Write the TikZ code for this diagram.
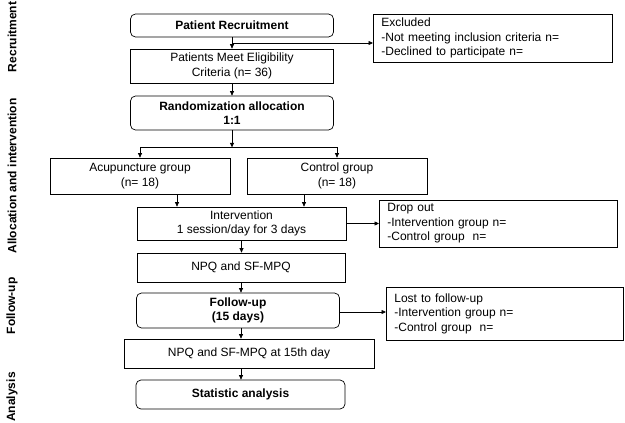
\documentclass[tikz,border=0pt]{standalone}
\usepackage{fontspec}
\setmainfont{Liberation Sans}
\usetikzlibrary{arrows.meta,calc}

\begin{document}
\begin{tikzpicture}[x=1pt, y=-1pt,
    every node/.style={font=\fontsize{12}{14.5}\selectfont},
    box/.style={draw, line width=0.7pt, align=center, inner sep=0pt},
    rbox/.style={box, rounded corners=5pt, font=\fontsize{12}{14.5}\selectfont\bfseries},
    side/.style={draw, line width=0.7pt, align=left, inner xsep=8pt, inner ysep=0pt, anchor=west},
    phase/.style={rotate=90, font=\fontsize{12}{14}\selectfont\bfseries},
    arr/.style={-{Triangle[length=4.5pt, width=4pt]}, line width=0.7pt}]
                    \useasboundingbox (0,0) rectangle (625,423);

                    % Phase labels
                    \node[phase] (lrec) at (12,37) {Recruitment};
                    \node[phase] (lalloc) at (12,176) {Allocation and intervention};
                    \node[phase] (lfollow) at (12,306) {Follow-up};
                    \node[phase] (lanal) at (12,397) {Analysis};

                    % Recruitment
                    \node[rbox, minimum width=203, minimum height=23] (recruit) at (232,25.5) {Patient Recruitment};
                    \node[box, minimum width=203, minimum height=34] (elig) at (232,66) {Patients Meet Eligibility\\Criteria (n= 36)};
                    \node[side, text width=223, minimum height=48] (excl) at (373,38) {Excluded\\-Not meeting inclusion criteria n=\\-Declined to participate n=};

                    % Allocation and intervention
                    \node[rbox, minimum width=203, minimum height=34] (rand) at (232,113) {Randomization allocation\\1:1};
                    \node[box, minimum width=180, minimum height=36] (acu) at (140,176) {Acupuncture group\\(n= 18)};
                    \node[box, minimum width=180, minimum height=36] (ctrl) at (337,176) {Control group\\(n= 18)};
                    \node[box, minimum width=209, minimum height=33] (interv) at (241.5,223.5) {Intervention\\1 session/day for 3 days};
                    \node[side, text width=222, minimum height=47] (drop) at (379,223.5) {Drop out\\-Intervention group n=\\-Control group\ \ n=};
                    \node[box, minimum width=208, minimum height=29] (npq) at (241,267.5) {NPQ and SF-MPQ};

                    % Follow-up
                    \node[rbox, minimum width=203, minimum height=35] (follow) at (238,310.5) {Follow-up\\(15 days)};
                    \node[side, text width=221, minimum height=53] (lost) at (386,313.5) {Lost to follow-up\\-Intervention group n=\\-Control group\ \ n=};
                    \node[box, minimum width=250, minimum height=29] (npqend) at (249,353.5) {NPQ and SF-MPQ at 15th day};

                    % Analysis
                    \node[rbox, minimum width=209, minimum height=29] (stat) at (240.5,394.5) {Statistic analysis};

                    % Main flow
                    \draw[arr] (recruit) -- (elig);
                    \coordinate (exout) at ($(recruit.south)!0.5!(elig.north)$);
                    \draw[arr] (exout) -- (exout -| excl.west);
                    \draw[arr] (elig) -- (rand);
                    \draw[arr] (rand.south) -- ++(0,17) coordinate (split);
                    \draw[arr] (split) -| (acu.north);
                    \draw[arr] (split) -| (ctrl.north);
                    \draw[arr] ([xshift=37]acu.south) -- ([xshift=37]acu.south |- interv.north);
                    \draw[arr] ([xshift=-33]ctrl.south) -- ([xshift=-33]ctrl.south |- interv.north);
                    \draw[arr] (interv) -- (drop);
                    \draw[arr] (interv.south) -- (interv.south |- npq.north);
                    \draw[arr] (npq.south) -- (npq.south |- follow.north);
                    \coordinate (lostout) at ($(follow.east |- lost.west)+(0,-1.5)$);
                    \draw[arr] (lostout) -- (lostout -| lost.west);
                    \draw[arr] (npq.south |- follow.south) -- (npq.south |- npqend.north);
                    \draw[arr] (npq.south |- npqend.south) -- (npq.south |- stat.north);
                \end{tikzpicture}
\end{document}
